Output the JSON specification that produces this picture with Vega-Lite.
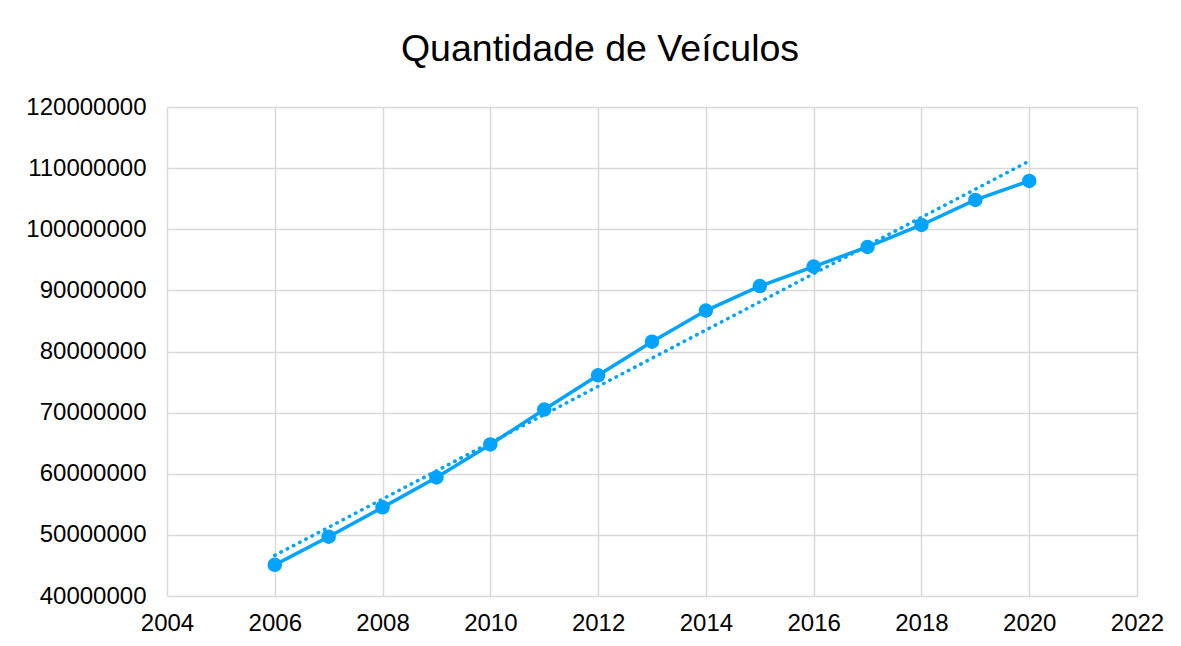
{
  "$schema": "https://vega.github.io/schema/vega-lite/v6.json",
  "width": 970,
  "height": 489,
  "autosize": "none",
  "padding": {"left": 167, "top": 107, "right": 44, "bottom": 50},
  "background": "white",
  "title": {
    "text": "Quantidade de Veículos",
    "font": "Liberation Sans",
    "fontSize": 37.5,
    "fontWeight": "normal",
    "color": "#000000",
    "anchor": "middle",
    "dx": -52,
    "offset": 27
  },
  "config": {
    "view": {"stroke": null},
    "axis": {
      "labelFont": "Liberation Sans",
      "labelFontSize": 24,
      "labelColor": "#000000",
      "labelFlush": false,
      "labelOverlap": false,
      "gridColor": "#d9d9d9",
      "gridWidth": 1.5,
      "domain": false,
      "ticks": false,
      "title": null
    }
  },
  "data": {
    "values": [
      {"ano": 2006, "veiculos": 45100000},
      {"ano": 2007, "veiculos": 49700000},
      {"ano": 2008, "veiculos": 54500000},
      {"ano": 2009, "veiculos": 59400000},
      {"ano": 2010, "veiculos": 64800000},
      {"ano": 2011, "veiculos": 70500000},
      {"ano": 2012, "veiculos": 76100000},
      {"ano": 2013, "veiculos": 81600000},
      {"ano": 2014, "veiculos": 86700000},
      {"ano": 2015, "veiculos": 90700000},
      {"ano": 2016, "veiculos": 93900000},
      {"ano": 2017, "veiculos": 97100000},
      {"ano": 2018, "veiculos": 100700000},
      {"ano": 2019, "veiculos": 104800000},
      {"ano": 2020, "veiculos": 107900000}
    ]
  },
  "encoding": {
    "x": {
      "field": "ano",
      "type": "quantitative",
      "scale": {"domain": [2004, 2022], "nice": false, "zero": false},
      "axis": {"values": [2004, 2006, 2008, 2010, 2012, 2014, 2016, 2018, 2020, 2022], "format": "d", "labelPadding": 15, "grid": true}
    },
    "y": {
      "field": "veiculos",
      "type": "quantitative",
      "scale": {"domain": [40000000, 120000000], "nice": false, "zero": false},
      "axis": {"values": [40000000, 50000000, 60000000, 70000000, 80000000, 90000000, 100000000, 110000000, 120000000], "format": "d", "labelPadding": 21, "grid": true}
    }
  },
  "layer": [
    {
      "mark": {"type": "line", "color": "#00A3FF", "strokeWidth": 3.5},
      "encoding": {}
    },
    {
      "mark": {"type": "point", "filled": true, "opacity": 1, "color": "#00A3FF", "size": 210},
      "encoding": {}
    },
    {
      "transform": [{"regression": "veiculos", "on": "ano", "method": "linear"}],
      "mark": {"type": "line", "color": "#00A3FF", "strokeWidth": 3.5, "strokeDash": [0.5, 6.5], "strokeCap": "round"},
      "encoding": {}
    }
  ]
}
